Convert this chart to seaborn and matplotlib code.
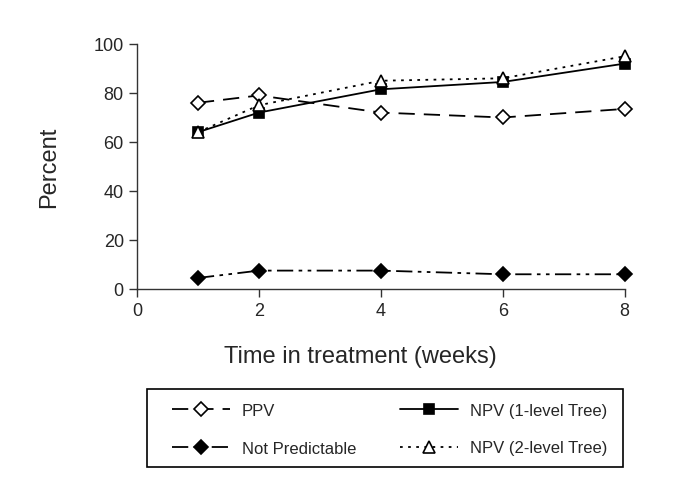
import matplotlib
matplotlib.use("Agg")
import matplotlib.pyplot as plt
from matplotlib.patches import Rectangle
import seaborn as sns
import pandas as pd

# Weeks in treatment and percentages per series
weeks = [1, 2, 4, 6, 8]
ppv = [76, 79, 72, 70, 73.5]
not_predictable = [4.5, 7.5, 7.5, 6, 6]
npv_1level = [64, 72, 81.5, 84.5, 92]
npv_2level = [64, 75, 85, 86, 95]

series_names = ["PPV", "Not Predictable", "NPV (1-level Tree)", "NPV (2-level Tree)"]
series_values = [ppv, not_predictable, npv_1level, npv_2level]

sns.set_style("white")
plt.rcParams["font.family"] = ["Liberation Sans", "DejaVu Sans"]

df = pd.DataFrame({
    "week": weeks * len(series_names),
    "percent": [v for vals in series_values for v in vals],
    "series": [n for n in series_names for _ in weeks],
})

styles = {
    "PPV": dict(linestyle=(0, (9, 5)), marker="D", markerfacecolor="white", markersize=7),
    "Not Predictable": dict(linestyle=(0, (9, 3, 2, 3, 2, 3)), marker="D", markerfacecolor="black", markersize=7),
    "NPV (1-level Tree)": dict(linestyle="-", marker="s", markerfacecolor="black", markersize=6.5),
    "NPV (2-level Tree)": dict(linestyle=(0, (1.5, 3)), marker="^", markerfacecolor="white", markersize=9),
}

fig = plt.figure(figsize=(6.85, 4.89), dpi=100)
ax = fig.add_axes([0.2, 0.407, 0.712, 0.501])

for name in series_names:
    sub = df[df["series"] == name]
    sns.lineplot(data=sub, x="week", y="percent", ax=ax, color="black",
                 linewidth=1.3, markeredgecolor="black", markeredgewidth=1.2,
                 label=name, clip_on=False, **styles[name])

ax.set_xlim(0, 8)
ax.set_ylim(0, 100)
ax.set_xticks([0, 2, 4, 6, 8])
ax.set_yticks([0, 20, 40, 60, 80, 100])
ax.tick_params(axis="both", labelsize=13, length=6, width=1, direction="out",
               bottom=True, left=True, color="#333333")
ax.set_xlabel("Time in treatment (weeks)", fontsize=17)
ax.set_ylabel("Percent", fontsize=17, labelpad=24)
ax.xaxis.set_label_coords(0.457, -0.23)
for side in ["top", "right"]:
    ax.spines[side].set_visible(False)
for side in ["left", "bottom"]:
    ax.spines[side].set_color("#333333")
    ax.spines[side].set_linewidth(1)

ax.get_legend().remove()
handles, labels = ax.get_legend_handles_labels()

# legend box drawn separately so its size matches the original
fig.patches.append(Rectangle((147 / 685, 1 - 468 / 489), 476 / 685, 78 / 489,
                             transform=fig.transFigure, fill=False,
                             edgecolor="black", linewidth=1.2))
fig.legend(handles, labels, ncol=2, loc="upper left",
           bbox_to_anchor=(172 / 685, 1 - 404 / 489), frameon=False,
           fontsize=12, borderpad=0, borderaxespad=0,
           handlelength=3.5, handletextpad=0.7, columnspacing=2.6,
           labelspacing=1.35)

fig.savefig("out.png", dpi=100)
